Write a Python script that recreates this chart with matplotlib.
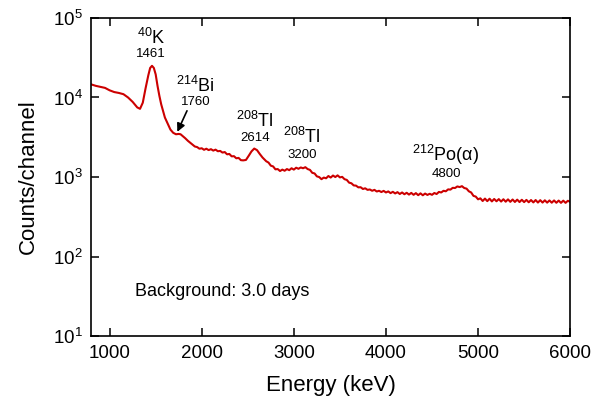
import matplotlib
matplotlib.use("Agg")
import matplotlib.pyplot as plt
from matplotlib.ticker import FixedLocator, NullLocator, LogFormatterSciNotation

plt.rcParams['font.family'] = ['Liberation Sans', 'DejaVu Sans']
plt.rcParams['mathtext.fontset'] = 'custom'
plt.rcParams['mathtext.rm'] = 'Liberation Sans'
plt.rcParams['mathtext.it'] = 'Liberation Sans:italic'
plt.rcParams['mathtext.bf'] = 'Liberation Sans:bold'

energy_keV = [
    800, 850, 900, 950, 1000, 1050, 1100, 1150, 1200, 1250, 1300, 1330, 1360, 1390,
    1420, 1440, 1460, 1480, 1500, 1520, 1540, 1560, 1580, 1600, 1630, 1660, 1690,
    1720, 1750, 1770, 1790, 1820, 1850, 1875, 1900, 1925, 1950, 1975, 2000, 2025,
    2050, 2075, 2100,
    2125, 2150, 2175, 2200, 2225, 2250, 2275, 2300, 2325, 2350, 2375, 2400, 2425,
    2450, 2480, 2510, 2540, 2570, 2600, 2630, 2660, 2700, 2725, 2750, 2775, 2800,
    2825, 2850, 2875, 2900, 2925, 2950, 2975, 3000, 3025, 3050, 3075, 3100, 3125,
    3150, 3175, 3200, 3225, 3250, 3275, 3300, 3325, 3350, 3375, 3400, 3425, 3450,
    3475, 3500, 3525, 3550, 3575,
    3600, 3625, 3650, 3675, 3700, 3725, 3750, 3775, 3800, 3825, 3850, 3875, 3900,
    3925, 3950, 3975, 4000, 4025, 4050, 4075, 4100, 4125, 4150, 4175, 4200, 4225,
    4250, 4275, 4300, 4325, 4350, 4375, 4400, 4425, 4450, 4475, 4500, 4525, 4550,
    4575, 4600, 4625, 4650, 4675, 4700, 4725, 4750, 4775, 4800, 4825, 4850, 4875,
    4900, 4925, 4950, 4975, 5000, 5025, 5050, 5075, 5100, 5125, 5150, 5175, 5200,
    5225, 5250, 5275, 5300, 5325, 5350, 5375, 5400, 5425, 5450, 5475, 5500, 5525,
    5550, 5575, 5600, 5625, 5650, 5675, 5700, 5725, 5750, 5775, 5800, 5825, 5850,
    5875, 5900, 5925, 5950, 5975, 6000,
]

counts = [
    14600, 14000, 13600, 13200, 12300, 11700, 11400, 11000, 10000, 8800, 7500, 7200, 8600, 13000,
    19000, 23500, 25000, 23500, 19500, 14000, 10500, 8200, 6800, 5600, 4700, 3950, 3600,
    3450, 3480, 3450, 3300, 3080, 2850, 2700, 2560, 2420, 2380, 2270, 2300, 2200,
    2270, 2180, 2240,
    2150, 2210, 2110, 2130, 2030, 2060, 1930, 1950, 1820, 1830, 1720, 1740, 1630,
    1620, 1640, 1850, 2100, 2280, 2180, 1950, 1760, 1580, 1520, 1390, 1360, 1250,
    1260, 1190, 1240, 1200, 1260, 1220, 1290, 1240, 1310, 1270, 1320, 1290, 1330,
    1260, 1230, 1130, 1110, 1020, 1000, 940, 985, 965, 1030, 985, 1045, 1000,
    1050, 990, 1005, 940, 920,
    850, 835, 785, 780, 742, 745, 708, 722, 690, 698, 672, 690, 658,
    672, 648, 670, 640, 660, 628, 652, 622, 646, 612, 640, 608, 634,
    602, 632, 598, 628, 592, 624, 590, 620, 596, 616, 598, 630, 612,
    650, 640, 672, 662, 700, 695, 732, 728, 762, 748, 768, 728, 715,
    662, 640, 580, 568, 525, 540, 500, 536, 498, 534, 494, 530, 496,
    528, 492, 526, 490, 524, 488, 522, 486, 520, 485, 518, 484, 516,
    482, 514, 480, 514, 478, 512, 478, 510, 477, 508, 476, 508, 475,
    506, 474, 505, 474, 503, 488,
]

x_ticks = [1000, 2000, 3000, 4000, 5000, 6000]
y_ticks = [1e1, 1e2, 1e3, 1e4, 1e5]

fig = plt.figure(figsize=(6.04, 4.07), dpi=100)
ax = fig.add_axes([0.151, 0.174, 0.793, 0.782])

ax.plot(energy_keV, counts, color='#cc0000', lw=1.5)

ax.set_yscale('log')
ax.set_xlim(800, 6000)
ax.set_ylim(1e1, 1e5)
ax.xaxis.set_major_locator(FixedLocator(x_ticks))
ax.yaxis.set_major_locator(FixedLocator(y_ticks))
ax.xaxis.set_minor_locator(NullLocator())
ax.yaxis.set_minor_locator(NullLocator())
ax.yaxis.set_major_formatter(LogFormatterSciNotation())

ax.tick_params(which='major', direction='in', length=6, width=1.1,
               top=True, right=True, labelsize=13.5, pad=6)
for s in ax.spines.values():
    s.set_linewidth(1.2)

ax.set_xlabel('Energy (keV)', fontsize=16, labelpad=10)
ax.set_ylabel('Counts/channel', fontsize=16, labelpad=10)

# annotations
ax.text(1450, 56000, r'$^{40}$K', ha='center', va='center', fontsize=13)
ax.text(1450, 35000, '1461', ha='center', va='center', fontsize=9.5)
ax.text(1930, 14000, r'$^{214}$Bi', ha='center', va='center', fontsize=13)
ax.text(1930, 8700, '1760', ha='center', va='center', fontsize=9.5)
ax.annotate('', xy=(1735, 3700), xytext=(1840, 6800),
            arrowprops=dict(arrowstyle='-|>', color='black', lw=1.2,
                            mutation_scale=12, shrinkA=0, shrinkB=0))
ax.text(2580, 5000, r'$^{208}$Tl', ha='center', va='center', fontsize=13)
ax.text(2580, 3100, '2614', ha='center', va='center', fontsize=9.5)
ax.text(3090, 3150, r'$^{208}$Tl', ha='center', va='center', fontsize=13)
ax.text(3090, 1890, '3200', ha='center', va='center', fontsize=9.5)
ax.text(4650, 1890, r'$^{212}$Po(α)', ha='center', va='center', fontsize=13)
ax.text(4660, 1080, '4800', ha='center', va='center', fontsize=9.5)
ax.text(1278, 36.8, 'Background: 3.0 days', ha='left', va='center', fontsize=13)

fig.savefig('out.png', dpi=100)
